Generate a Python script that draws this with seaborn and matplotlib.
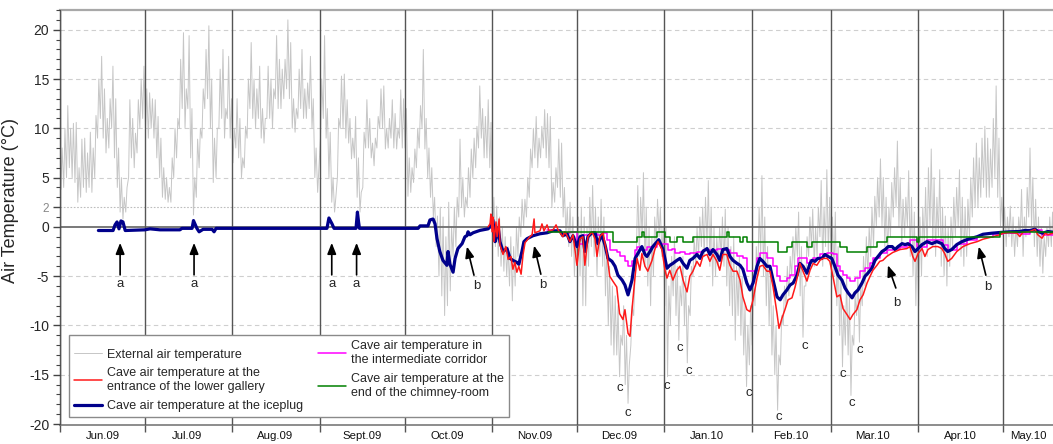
import numpy as np
import pandas as pd
import matplotlib
matplotlib.use("Agg")
import matplotlib.pyplot as plt
import matplotlib.dates as mdates
from matplotlib.ticker import FixedLocator, NullFormatter, FixedFormatter
import seaborn as sns

START = pd.Timestamp("2009-06-01")
END_DAY = 351.8

# ---------------- external air temperature: daily high / low (deg C), from 1 Jun 2009 ----------------
ext_hi = [
    8, 10, 12.3, 10, 10.5, 10.6, 6, 8.9, 9, 7.5, 9.6, 8, 11.3, 15, 17.3, 14, 11, 13, 16.3, 13, 8, 5, 3, 4, 12.9, 11, 9.5, 12.9, 15, 16.3,
    14, 13.6, 13, 12.9, 11.2, 9, 6, 5, 4, 7, 10, 11, 17, 19.7, 14, 19.4, 12, 5, 8.9, 10, 14, 18, 20.4, 15, 9, 10, 16, 18, 12, 17.3, 13,
    10, 13, 11, 7, 10.2, 15, 18.7, 15, 14, 16.3, 12, 11, 16.3, 15, 14, 19.4, 17, 16, 17, 21, 18.7, 13, 12, 16, 18, 14, 14.6, 17.3, 13, 8, 6,
    15, 19.4, 12, 9.6, 5, 3, 11, 15.3, 15.5, 12.9, 11, 9, 11.2, 7, 3.5, 9.6, 12.9, 11, 8.5, 9, 11.2, 14, 14.3, 10, 11, 12.9, 11.5, 10, 13.9, 13,
    12, 7, 6, 7.9, 10, 12.3, 18, 11, 8, 6, 3, 1.1, 2, 1, -1, 2.5, 0, 2, 3, 8.9, 5, 3, 6, 7.9, 9, 10.2, 14.3, 12, 11.2, 12.9, 10.6,
    3, 2.1, 1, 0, -1, -2, -1, -2, 0, 1, 2.8, 2.8, 5, 7.9, 10, 11.2, 9, 10.2, 11.9, 11.5, 11.2, 4.5, 6, 8.9, 8.5, 4, 2, 2.5, 1, -1,
    1, 2, 1, 0, 3, 4.2, 2, 1, 2.8, 1, -2, -4, -6, -7, -8, -11, -8, -11, -14, -8, -5, 4.2, 3, 5.5, 2, 0, -1, 1, 2.8, 2, 0,
    0, -6, -3, -1, -4, -6, -3, -5, -8, -4, -1, 0, 1, 2, 3, 4.7, 2, 0, -1, 0, 1, 1.8, 0, -2, -1, -4, -3, -5, -8, -10, -8,
    -6, -2, 2, 5.2, 1, -2, -4, -8, -10, -13, -9, -6, -4, -3, -1, 0, 1.5, -2, -6, -1, 1, 1.8, 0, 2, 4.7, 2, 5.8, 3,
    1, 1.5, -2, -5, -8, -5, -7, -11, -7, -5, -6, -3, -1, 0, 2, 3.1, 5, 6.9, 5, 3, 2, 4.5, 6, 8.7, 5, 2.8, 3, 5.7, 3, 1.5, -1,
    1, 2, 4, 6, 7.9, 5, 3, 5.8, 2, 1.1, 0, 1, 3, 4, 5.8, 3, 2, 2.8, 5, 7, 8.5, 7, 9, 10.2, 9, 7.9, 11, 14.3, 9, 3,
    2, 1, 2.1, 1, 0, 1, 3.8, 1, 4, 8, 5, 2.8, 1, 0, -1, 0, 1, 1.5, 1,
]
ext_lo = [
    3.8, 4, 5, 6, 5, 4.5, 2.5, 3, 4, 3.5, 4, 3.5, 5, 9, 11, 9, 7.5, 8, 10, 7, 4, 1.5, 0.8, 1.5, 5, 7, 6, 7.5, 10, 11,
    10, 9, 10, 9, 7, 5, 3, 2.8, 2.5, 2.5, 5, 7, 10, 12, 10, 12, 7, 1.2, 3, 6, 9, 12, 13, 10, 4.5, 5, 10, 11, 9, 11, 9,
    6.5, 8, 7, 5, 6, 9, 12, 11, 10, 11, 9, 8.5, 11, 11, 10, 13, 12, 12, 13, 14, 13, 10, 9.6, 11, 12, 11, 11, 12, 10, 5, 3.5,
    9, 11, 9, 5, 2.5, 1.5, 5, 10, 10, 9, 8.5, 6.9, 7, 3, 1.5, 4, 8, 8, 7, 6.2, 8, 10, 10, 7.9, 8, 9, 8, 7.9, 9, 8,
    8, 3.1, 3.5, 4.5, 6, 8, 10, 7.9, 5, 3, 1, -2, -5, -7, -9, -8, -6.5, -3, -2, 1, 2, 1, 2, 3, 5, 6, 8, 9, 7, 7, 6,
    -1, -2, -3, -4, -4.5, -5, -6, -7.5, -6, -3, -1, 0, 1, 3, 6, 7, 6, 7, 8, 7, 6, 2, 2.5, 4, 3, 1, -1, -2, -3, -5,
    -3, -5, -8, -8, -4, -2, -3, -5, -3, -4, -7, -10, -12, -13, -13, -15.2, -12, -16, -17.9, -12, -9, -2, -3, -1, -4, -6, -8, -5, -2, -1, -3,
    -8, -15.2, -10, -7, -9, -11.5, -8, -10, -13.8, -9, -5, -4, -3, -2, -3, -2, -4, -6, -5, -4, -3, -4, -6, -8, -9, -11.5, -9, -11, -13, -16.2, -14,
    -12, -8, -5, -3, -5, -8, -10, -13, -15, -18.6, -14, -10, -8, -7, -5, -4, -3, -7, -11.2, -6, -3, -2, -4, -3, -1, -4, -2, -3,
    -4, -5, -8, -11, -14.2, -12, -13, -17.1, -12, -9, -11.7, -8, -6, -5, -3, -2, 0, 1, 0, -2, -3, -1, 1, 2, 0, -2, -1, 0, -3, -5, -8,
    -8, -5, -2, -3, 0, -2, -3, -1, -4, -5, -6, -4, -2, -1, 0, -3, -4, -3, -1, 1, 2, 2, 3, 4, 3, 3, 4, 5, 3, 0,
    -1, -2, -1, -2, -3, -2, -1, -3, -1, 1, 0, -2, -3, -4, -4.7, -3, -2, -2, -3,
]

# ---------------- cave series: (day since 1 Jun 2009, deg C) ----------------
iceplug = [
    (13.5, -0.37), (18.7, -0.37), (19.4, 0.2), (20.1, 0.5), (20.8, -0.2), (21.5, 0.6), (22.2, 0.5), (23.0, -0.37),
    (30.0, -0.3), (31.8, -0.2), (35.3, -0.3), (42.4, -0.3), (43.1, -0.15), (46.7, -0.15), (47.2, 0.64), (47.7, 0.3),
    (48.4, -0.15), (49.2, -0.5), (50.6, -0.25), (53.8, -0.25), (54.5, -0.5), (55.2, -0.15), (94.5, -0.15), (95.2, 0.9),
    (96.3, 0.3), (97.0, -0.15), (104.8, -0.15), (105.3, 1.5), (105.7, 0.5), (106.0, -0.15), (126.8, -0.15), (127.5, 0.1),
    (130.3, 0.1), (131.0, 0.7), (132.1, 0.8), (132.8, 0.3), (133.5, -1.2), (134.5, -2.5), (135.6, -3.4), (137.0, -3.9),
    (137.4, -2.5), (138.1, -3.8), (139.2, -4.6), (139.9, -3.2), (140.9, -2.2), (142.4, -1.7), (143.4, -1.0), (144.1, -0.9),
    (144.5, -0.5), (145.2, -0.8), (146.3, -0.6), (148.7, -0.36), (151.6, -0.2), (152.3, 0.0), (153.3, 0.7), (154.1, -1.5),
    (154.8, -0.8), (155.2, -0.1), (155.8, -1.5), (156.9, -2.5), (158.3, -2.2), (159.4, -3.2), (160.4, -3.4), (161.8, -3.6),
    (162.5, -3.8), (163.6, -2.5), (164.3, -1.5), (165.4, -1.2), (167.5, -0.9), (170.0, -0.7), (172.5, -0.6), (174.6, -0.4),
    (177.1, -0.4), (178.1, -0.9), (179.6, -0.7), (180.6, -1.5), (181.7, -0.9), (183.1, -2.0), (184.2, -1.0), (185.2, -0.9),
    (185.9, -2.5), (187.0, -1.0), (188.4, -0.6), (189.5, -0.6), (190.5, -1.7), (191.9, -0.8), (193.0, -1.8), (194.1, -3.2),
    (195.5, -3.5), (196.6, -4.0), (197.6, -4.9), (199.1, -5.4), (200.1, -5.9), (201.2, -6.9), (202.6, -5.4), (203.7, -3.2),
    (204.7, -2.7), (206.1, -2.0), (207.2, -2.8), (207.9, -3.0), (209.0, -2.5), (210.0, -2.0), (211.5, -1.5), (212.1, -1.3),
    (213.6, -2.3), (215.0, -4.2), (216.0, -3.9), (217.1, -3.7), (218.5, -3.4), (219.6, -3.2), (220.7, -3.7), (222.1, -4.2),
    (223.1, -3.4), (224.2, -3.2), (225.6, -2.8), (226.7, -3.2), (227.7, -2.5), (229.2, -2.2), (230.2, -2.8), (231.3, -2.3),
    (232.7, -2.8), (233.7, -3.4), (234.8, -2.3), (236.2, -2.2), (237.3, -3.0), (238.4, -3.4), (239.8, -3.7), (240.9, -3.9),
    (241.9, -4.3), (243.3, -5.7), (244.4, -6.4), (245.5, -5.7), (246.9, -4.0), (247.9, -3.2), (249.0, -3.5), (250.4, -4.0),
    (251.5, -4.0), (252.6, -5.4), (254.0, -7.1), (255.1, -7.4), (256.1, -6.9), (257.5, -6.4), (258.6, -5.9), (259.7, -5.7),
    (261.1, -4.9), (262.1, -3.7), (263.2, -4.0), (264.6, -4.7), (265.7, -3.7), (266.4, -3.4), (267.4, -3.5), (268.5, -3.2),
    (269.9, -3.2), (271.0, -2.8), (272.0, -3.0), (273.4, -3.2), (274.5, -4.0), (275.6, -4.9), (277.0, -5.4), (278.1, -6.2),
    (279.2, -6.7), (280.6, -7.2), (281.6, -6.7), (282.7, -6.4), (284.1, -5.7), (285.2, -5.0), (286.2, -4.7), (287.6, -4.2),
    (288.7, -3.4), (289.8, -3.0), (291.2, -2.5), (292.3, -2.3), (293.4, -2.0), (294.8, -2.0), (295.8, -2.3), (296.9, -2.0),
    (298.3, -1.7), (299.4, -1.8), (300.4, -1.7), (301.8, -2.0), (302.9, -2.5), (303.6, -2.3), (305.4, -1.8), (307.1, -1.5),
    (308.9, -1.7), (310.6, -1.5), (312.4, -1.7), (313.4, -2.2), (314.5, -2.5), (315.9, -2.3), (317.7, -1.8), (319.5, -1.5),
    (321.7, -1.25), (324.9, -1.0), (327.0, -0.75), (330.2, -0.64), (333.0, -0.57), (336.5, -0.5), (340.0, -0.47),
    (341.8, -0.37), (343.6, -0.37), (345.4, -0.24), (346.4, -0.47), (348.2, -0.64), (350.0, -0.47), (351.8, -0.54),
]

entrance = [
    (151.6, 0.0), (152.3, 0.3), (152.6, 1.3), (153.0, -0.5), (153.3, 1.0), (153.7, -1.5), (154.4, 0.5), (154.8, -1.0),
    (155.5, 0.8), (155.8, -1.8), (156.9, -2.8), (157.9, -2.0), (158.7, -3.3), (159.7, -3.0), (160.4, -4.3), (161.1, -3.6),
    (161.8, -4.6), (162.5, -4.0), (163.3, -4.8), (164.0, -2.8), (164.7, -1.6), (166.4, -1.0), (167.2, -0.8), (167.9, 0.8),
    (168.2, -0.6), (170.0, -0.4), (170.7, 0.3), (171.4, -0.4), (172.5, 0.2), (173.2, -0.4), (174.6, -0.3), (175.7, 0.2),
    (176.4, -0.3), (178.1, -1.0), (178.8, -0.5), (179.6, -0.9), (180.6, -1.5), (181.7, -0.8), (183.1, -3.9), (184.2, -1.2),
    (185.2, -1.0), (185.9, -3.9), (187.0, -1.0), (188.4, -0.5), (189.5, -1.2), (190.2, -3.0), (191.2, -1.0), (192.3, -0.6),
    (193.7, -2.7), (194.7, -5.0), (195.8, -5.5), (197.2, -6.1), (198.2, -8.8), (199.4, -9.4), (200.1, -8.4), (201.2, -10.8),
    (201.9, -11.1), (202.6, -8.4), (203.7, -5.0), (204.4, -3.2), (205.4, -4.4), (206.1, -2.7), (207.2, -4.0), (208.2, -4.5),
    (209.7, -3.4), (210.7, -2.3), (211.8, -1.5), (213.2, -2.3), (214.3, -4.4), (215.0, -5.2), (216.0, -4.4), (217.1, -5.4),
    (218.5, -4.4), (219.6, -4.0), (220.7, -5.4), (222.1, -6.6), (223.1, -5.0), (224.2, -4.5), (225.6, -3.5), (226.7, -4.0),
    (227.7, -3.0), (229.2, -2.8), (230.2, -3.5), (231.3, -2.8), (232.7, -3.5), (233.7, -4.4), (234.8, -2.8), (236.2, -2.8),
    (237.3, -3.9), (238.4, -4.5), (239.8, -4.5), (240.9, -5.4), (241.9, -7.1), (243.3, -8.4), (244.4, -8.6), (245.5, -7.4),
    (246.9, -5.2), (247.9, -4.0), (249.0, -3.9), (250.4, -4.5), (251.5, -4.5), (252.6, -6.1), (254.0, -8.8), (254.7, -10.3),
    (255.7, -9.3), (256.8, -8.4), (257.9, -7.4), (259.3, -7.2), (260.4, -6.1), (261.5, -4.7), (262.1, -3.7), (263.2, -4.5),
    (264.6, -5.5), (265.7, -4.4), (266.8, -3.7), (268.1, -3.9), (269.2, -3.4), (270.3, -3.2), (271.7, -3.2), (272.7, -3.5),
    (273.8, -5.0), (275.2, -7.1), (276.3, -6.9), (277.4, -8.3), (278.8, -8.9), (279.9, -9.4), (280.9, -8.9), (282.3, -8.4),
    (283.4, -7.4), (284.5, -6.9), (285.9, -5.7), (287.0, -5.0), (288.0, -4.4), (289.4, -3.9), (290.4, -3.5), (291.5, -3.4),
    (292.9, -3.0), (295.0, -2.6), (297.6, -2.3), (300.0, -2.2), (301.1, -2.0), (302.1, -3.0), (302.9, -3.5), (304.0, -2.7),
    (305.4, -2.2), (306.4, -3.0), (307.5, -2.3), (309.2, -2.0), (311.0, -2.0), (312.4, -2.2), (313.4, -2.7), (314.5, -3.5),
    (315.9, -3.2), (317.7, -2.5), (319.9, -2.0), (322.4, -1.7), (324.9, -1.5), (327.0, -1.25), (330.5, -1.0), (333.0, -0.8),
    (334.1, -0.64), (336.5, -0.57), (339.0, -0.64), (340.0, -0.98), (341.1, -0.57), (343.6, -0.47), (345.4, -0.24),
    (346.4, -0.8), (347.9, -1.15), (349.0, -0.64), (350.0, -0.8), (351.8, -0.64),
]

corridor = [
    (172.5, -0.3), (174.6, -0.4), (177.1, -0.5), (178.1, -0.8), (179.6, -0.6), (180.6, -0.5), (183.1, -1.7), (185.2, -0.8),
    (187.7, -0.6), (190.2, -0.8), (192.3, -0.6), (193.7, -1.3), (194.7, -2.3), (197.2, -2.5), (198.2, -3.0), (200.1, -3.5),
    (201.2, -4.0), (202.6, -3.5), (203.7, -2.3), (204.4, -2.0), (206.1, -2.3), (207.9, -2.0), (211.5, -1.7), (214.3, -1.7),
    (215.3, -2.3), (216.8, -2.2), (217.8, -2.7), (219.6, -2.5), (221.4, -2.8), (223.1, -2.7), (225.6, -2.5), (227.7, -2.3),
    (230.2, -2.3), (232.7, -2.2), (234.8, -2.3), (237.3, -2.7), (239.8, -3.0), (241.9, -3.2), (243.3, -4.5), (245.5, -4.5),
    (246.9, -3.2), (247.9, -2.7), (250.4, -3.2), (252.6, -4.0), (254.0, -5.0), (255.1, -5.5), (257.5, -5.2), (258.6, -4.9),
    (260.4, -4.0), (261.5, -3.2), (263.2, -3.2), (264.6, -3.7), (265.7, -3.4), (266.8, -3.2), (269.2, -2.8), (271.7, -2.7),
    (273.8, -2.8), (275.2, -4.0), (276.3, -4.5), (277.4, -4.9), (278.8, -5.2), (279.9, -5.5), (281.6, -5.2), (283.4, -4.5),
    (285.2, -4.2), (287.0, -3.7), (288.0, -3.2), (290.4, -2.7), (292.9, -2.3), (295.0, -2.2), (297.6, -2.0), (300.0, -1.8),
    (301.1, -1.3), (303.6, -2.0), (307.1, -1.3), (312.8, -1.8), (314.5, -2.3), (317.7, -1.7), (321.3, -1.3), (324.9, -1.0),
    (330.5, -0.7), (334.1, -0.57), (336.5, -0.64), (340.0, -0.74), (343.6, -0.47), (345.4, -0.3), (347.9, -0.8), (351.8, -0.57),
]

chimney = [
    (173.0, -0.5), (195.8, -1.5), (204.4, -1.0), (206.1, -0.5), (206.8, -1.0), (211.5, -0.5), (214.3, -1.0), (216.0, -1.5),
    (218.5, -1.0), (220.7, -1.5), (224.2, -1.0), (236.2, -0.5), (236.9, -1.0), (240.9, -1.5), (241.9, -1.0), (243.3, -1.5),
    (254.3, -2.5), (257.5, -2.0), (259.3, -1.5), (264.6, -2.0), (266.4, -1.5), (276.3, -2.0), (278.8, -2.5), (285.9, -2.0),
    (289.4, -1.5), (292.9, -1.0), (303.6, -1.5), (304.3, -1.0), (333.0, -0.5), (351.8, -0.5),
]

month_labels = ["Jun.09", "Jul.09", "Aug.09", "Sept.09", "Oct.09", "Nov.09",
                "Dec.09", "Jan.10", "Feb.10", "Mar.10", "Apr.10", "May.10"]
month_label_dates = ["2009-06-16", "2009-07-16", "2009-08-16", "2009-09-16", "2009-10-16", "2009-11-16",
                     "2009-12-16", "2010-01-16", "2010-02-15", "2010-03-16", "2010-04-16", "2010-05-10"]

y_major = [-20, -15, -10, -5, 0, 2, 5, 10, 15, 20]
dashed_levels = [20, 15, 10, 5, -5, -10, -15]

# annotations (day, temperature)
a_days = [21.2, 47.4, 96.2, 105.0]
b_tips = [(144.1, -2.0), (167.9, -1.9), (293.3, -3.9), (325.5, -2.0)]
b_tails = [(146.6, -4.9), (170.3, -4.8), (296.1, -6.2), (328.0, -4.9)]
b_text = [(147.7, -6.0), (171.1, -5.9), (296.5, -7.7), (328.7, -6.1)]
c_text = [(198.3, -16.3), (201.2, -18.9), (215.0, -16.1), (219.6, -12.3), (222.8, -14.6), (244.1, -16.9),
          (254.7, -19.3), (263.9, -12.1), (277.4, -14.9), (280.5, -17.9), (283.4, -12.5)]

labels = {
    "ext": "External air temperature",
    "ent": "Cave air temperature at the\nentrance of the lower gallery",
    "ice": "Cave air temperature at the iceplug",
    "cor": "Cave air temperature in\nthe intermediate corridor",
    "chi": "Cave air temperature at the\nend of the chimney-room",
}

# ---------------- helpers ----------------
def to_date(days):
    return START + pd.to_timedelta(np.asarray(days, dtype=float), unit="D")

def frame(pairs):
    d, v = zip(*pairs)
    return pd.DataFrame({"t": to_date(d), "v": v})

n = len(ext_hi)
ext_df = pd.DataFrame({
    "day": np.concatenate([np.arange(n) + 0.2, np.arange(n) + 0.65]),
    "v": np.concatenate([ext_lo, ext_hi]),
}).sort_values("day")
ext_df["t"] = to_date(ext_df["day"])

# ---------------- figure ----------------
sns.set_style("white")
plt.rcParams["font.family"] = ["Liberation Sans", "DejaVu Sans"]

fig = plt.figure(figsize=(10.53, 4.44), dpi=100)
ax = fig.add_axes([60.3 / 1053, 19 / 444, (1053 - 60.3) / 1053, 415 / 444])

for lv in dashed_levels:
    ax.axhline(lv, color="#cfcfcf", lw=0.8, ls=(0, (4, 3)), zorder=1)
ax.axhline(2, color="#bdbdbd", lw=0.8, ls=(0, (1.5, 1.5)), zorder=1)

handles = {}
sns.lineplot(data=ext_df, x="t", y="v", ax=ax, color="#c6c6c6", lw=0.7, sort=False,
             estimator=None, zorder=2)
handles["ext"] = ax.lines[-1]

ax.axhline(0, color="#6e6e6e", lw=1.3, zorder=2.5)

sns.lineplot(data=frame(iceplug), x="t", y="v", ax=ax, color="#00008b", lw=2.3, sort=False,
             estimator=None, zorder=4)
handles["ice"] = ax.lines[-1]
sns.lineplot(data=frame(entrance), x="t", y="v", ax=ax, color="#ff1a1a", lw=1.1, sort=False,
             estimator=None, zorder=5)
handles["ent"] = ax.lines[-1]
sns.lineplot(data=frame(corridor), x="t", y="v", ax=ax, color="#ff00ff", lw=1.1, sort=False,
             estimator=None, drawstyle="steps-post", zorder=3.5)
handles["cor"] = ax.lines[-1]
sns.lineplot(data=frame(chimney), x="t", y="v", ax=ax, color="#008000", lw=1.1, sort=False,
             estimator=None, drawstyle="steps-post", zorder=6)
handles["chi"] = ax.lines[-1]

# axes limits / ticks
ax.set_xlim(START, START + pd.Timedelta(days=END_DAY))
ax.set_ylim(-20.1, 22.0)

ax.xaxis.set_major_locator(mdates.MonthLocator())
ax.xaxis.set_major_formatter(NullFormatter())
ax.xaxis.set_minor_locator(FixedLocator(mdates.date2num(pd.to_datetime(month_label_dates))))
ax.xaxis.set_minor_formatter(FixedFormatter(month_labels))
ax.tick_params(axis="x", which="major", direction="out", length=5, width=1, color="#555555", bottom=True)
ax.tick_params(axis="x", which="minor", length=0, labelsize=8.2, pad=4, labelcolor="#111111", bottom=True)
ax.grid(axis="x", which="major", color="#555555", lw=1.0, zorder=1.5)
ax.set_axisbelow(False)

ax.set_yticks(y_major)
ax.set_yticks(np.arange(-20, 23, 1), minor=True)
ax.set_yticklabels([str(v) for v in y_major])
ax.tick_params(axis="y", which="major", direction="out", length=5, width=1, color="#444444",
               labelsize=10, left=True, pad=3)
ax.tick_params(axis="y", which="minor", direction="out", length=3, width=0.8, color="#444444", left=True)
for lab in ax.get_yticklabels():
    if lab.get_text() == "2":
        lab.set_color("#888888")
        lab.set_fontsize(8.5)

ax.set_xlabel("")
ax.set_ylabel("Air Temperature (°C)", fontsize=13)
ax.yaxis.set_label_coords(-0.042, 0.54)

ax.spines["right"].set_visible(False)
ax.spines["top"].set_color("#a8a8a8")
ax.spines["top"].set_linewidth(1.6)
ax.spines["bottom"].set_color("#8c8c8c")
ax.spines["bottom"].set_linewidth(1.4)
ax.spines["left"].set_color("#444444")
ax.spines["left"].set_linewidth(1.0)

# annotations
arrow_kw = dict(arrowstyle="-|>,head_length=0.55,head_width=0.22", color="black", lw=1.2,
                shrinkA=0, shrinkB=0, mutation_scale=12)
for d in a_days:
    ax.annotate("", xy=(to_date([d])[0], -1.62), xytext=(to_date([d])[0], -4.87),
                arrowprops=arrow_kw, zorder=7)
    ax.text(to_date([d])[0], -5.75, "a", ha="center", va="center", fontsize=9.5, zorder=7)
for tip, tail, txt in zip(b_tips, b_tails, b_text):
    ax.annotate("", xy=(to_date([tip[0]])[0], tip[1]), xytext=(to_date([tail[0]])[0], tail[1]),
                arrowprops=arrow_kw, zorder=7)
    ax.text(to_date([txt[0]])[0], txt[1], "b", ha="center", va="center", fontsize=9.5, zorder=7)
for d, v in c_text:
    ax.text(to_date([d])[0], v, "c", ha="center", va="center", fontsize=9.5, zorder=7)

order = ["ext", "ent", "ice", "cor", "chi"]
leg = ax.legend([handles[k] for k in order], [labels[k] for k in order], ncol=2,
                loc="lower left", bbox_to_anchor=(0.0088, 0.019), borderaxespad=0,
                fontsize=9, frameon=True, fancybox=False, framealpha=1, edgecolor="#8a8a8a",
                handlelength=2.2, handletextpad=0.45, columnspacing=1.2, labelspacing=0.55,
                borderpad=0.4)
leg.get_frame().set_linewidth(1.0)
leg.set_zorder(10)

fig.savefig("out.png", dpi=100)
